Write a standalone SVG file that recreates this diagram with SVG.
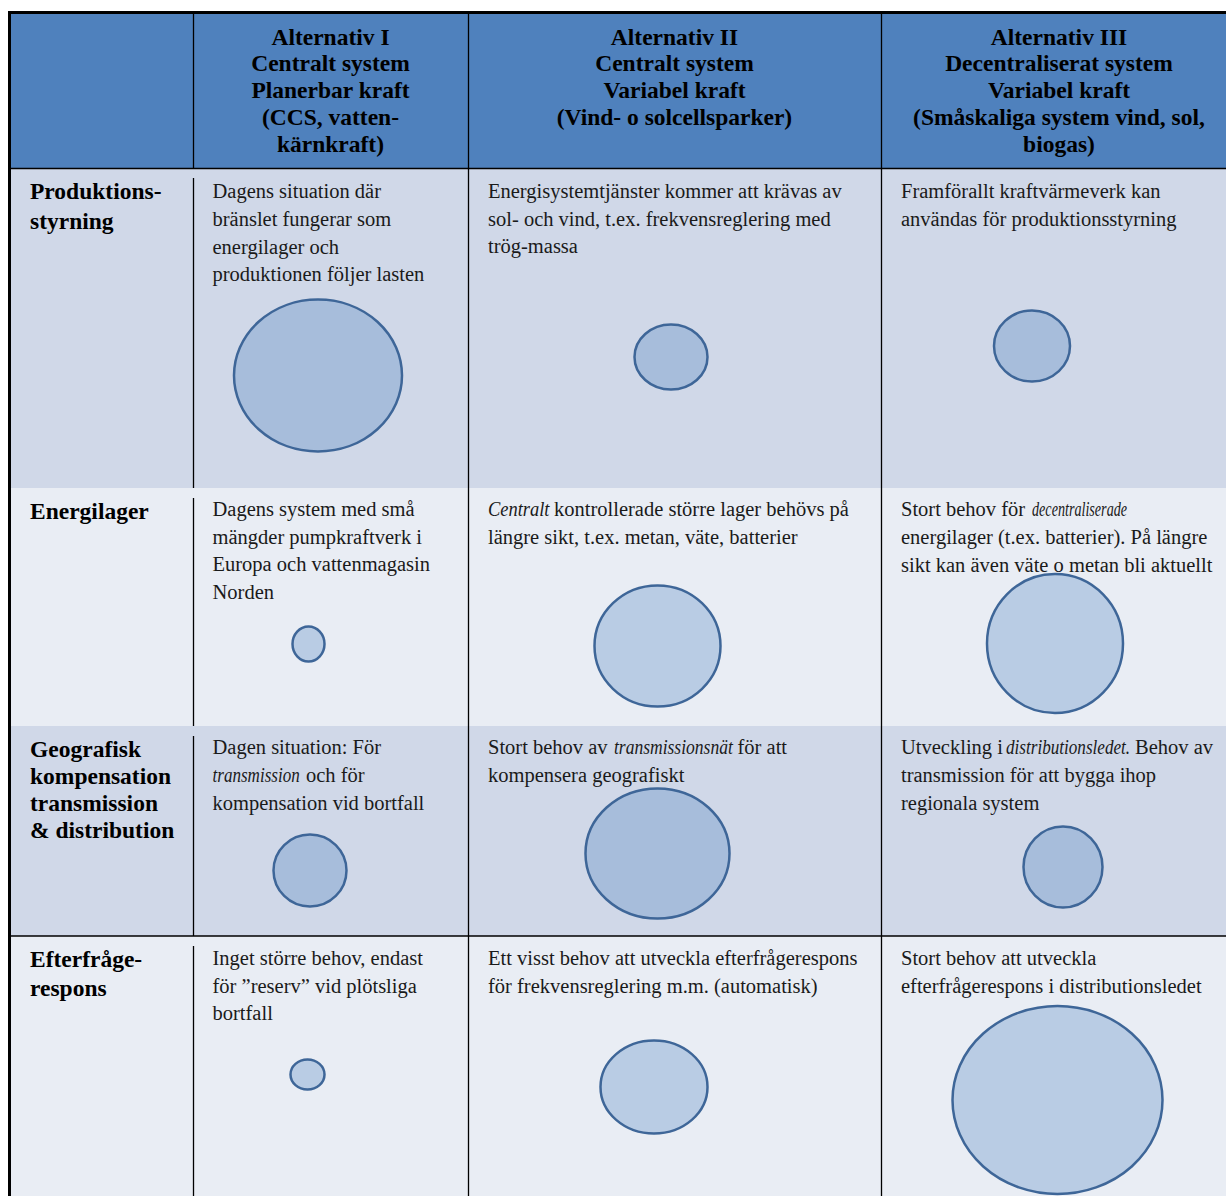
<svg xmlns="http://www.w3.org/2000/svg" width="1226" height="1196" viewBox="0 0 1226 1196">
<style>
.h{font-family:"Liberation Serif","Times New Roman",serif;font-weight:bold;font-size:23.5px;fill:#000;text-anchor:middle}
.l{font-family:"Liberation Serif","Times New Roman",serif;font-weight:bold;font-size:23.5px;fill:#000}
.b{font-family:"Liberation Serif","Times New Roman",serif;font-size:20.5px;fill:#1a1a1a}
.i{font-style:italic}
.ed{fill:#A7BDDB;stroke:#3E6698;stroke-width:2.5}
.el{fill:#B9CCE4;stroke:#3E6698;stroke-width:2.5}
.g{stroke:#000;fill:none}
</style>
<rect x="0" y="0" width="1226" height="1196" fill="#fff"/>
<g id="bands">
<rect x="11" y="14" width="1215" height="155" fill="#4F81BD"/>
<rect x="11" y="169" width="1215" height="319" fill="#D0D8E8"/>
<rect x="11" y="488" width="1215" height="238" fill="#E9EDF4"/>
<rect x="11" y="726" width="1215" height="210" fill="#D0D8E8"/>
<rect x="11" y="936" width="1215" height="260" fill="#E9EDF4"/>
</g>
<g id="grid" class="g">
<line x1="8" y1="12.5" x2="1226" y2="12.5" stroke-width="3"/>
<line x1="9.5" y1="11" x2="9.5" y2="1196" stroke-width="3"/>
<line x1="11" y1="168.5" x2="1226" y2="168.5" stroke-width="1.3"/>
<line x1="11" y1="936" x2="1226" y2="936" stroke-width="1.5"/>
<line x1="193.5" y1="14" x2="193.5" y2="168" stroke-width="1.3"/>
<line x1="193.5" y1="178" x2="193.5" y2="488" stroke-width="1.3"/>
<line x1="193.5" y1="498" x2="193.5" y2="726" stroke-width="1.3"/>
<line x1="193.5" y1="736" x2="193.5" y2="936" stroke-width="1.3"/>
<line x1="193.5" y1="946" x2="193.5" y2="1196" stroke-width="1.3"/>
<line x1="468.5" y1="14" x2="468.5" y2="1196" stroke-width="1.3"/>
<line x1="881.5" y1="14" x2="881.5" y2="1196" stroke-width="1.3"/>
</g>
<g id="connectors"></g>
<g id="header-alt1">
<text class="h" x="330.5" y="44.5">Alternativ I</text>
<text class="h" x="330.5" y="71.3">Centralt system</text>
<text class="h" x="330.5" y="98">Planerbar kraft</text>
<text class="h" x="330.5" y="124.8">(CCS, vatten-</text>
<text class="h" x="330.5" y="151.6">kärnkraft)</text>
</g>
<g id="header-alt2">
<text class="h" x="674.5" y="44.5">Alternativ II</text>
<text class="h" x="674.5" y="71.3">Centralt system</text>
<text class="h" x="674.5" y="98">Variabel kraft</text>
<text class="h" x="674.5" y="124.8">(Vind- o solcellsparker)</text>
</g>
<g id="header-alt3">
<text class="h" x="1059" y="44.5">Alternativ III</text>
<text class="h" x="1059" y="71.3">Decentraliserat system</text>
<text class="h" x="1059" y="98">Variabel kraft</text>
<text class="h" x="1059" y="124.8">(Småskaliga system vind, sol,</text>
<text class="h" x="1059" y="151.6">biogas)</text>
</g>
<g id="label-produktionsstyrning">
<text class="l" x="30" y="199">Produktions-</text>
<text class="l" x="30" y="229">styrning</text>
</g>
<g id="label-energilager">
<text class="l" x="30" y="519">Energilager</text>
</g>
<g id="label-geografisk">
<text class="l" x="30" y="757">Geografisk</text>
<text class="l" x="30" y="784">kompensation</text>
<text class="l" x="30" y="811">transmission</text>
<text class="l" x="30" y="838">&amp; distribution</text>
</g>
<g id="label-efterfragerespons">
<text class="l" x="30" y="967">Efterfråge-</text>
<text class="l" x="30" y="996">respons</text>
</g>
<g id="cell-1-1">
<text class="b" x="212.5" y="198">Dagens situation där</text>
<text class="b" x="212.5" y="226">bränslet fungerar som</text>
<text class="b" x="212.5" y="253.5">energilager och</text>
<text class="b" x="212.5" y="281">produktionen följer lasten</text>
<ellipse class="ed" cx="318" cy="375.5" rx="84" ry="76"/>
</g>
<g id="cell-1-2">
<text class="b" x="488" y="198">Energisystemtjänster kommer att krävas av</text>
<text class="b" x="488" y="225.5">sol- och vind, t.ex. frekvensreglering med</text>
<text class="b" x="488" y="253">trög-massa</text>
<ellipse class="ed" cx="671" cy="357" rx="36.5" ry="32.5"/>
</g>
<g id="cell-1-3">
<text class="b" x="901" y="198">Framförallt kraftvärmeverk kan</text>
<text class="b" x="901" y="225.5">användas för produktionsstyrning</text>
<ellipse class="ed" cx="1032" cy="346" rx="38" ry="35.5"/>
</g>
<g id="cell-2-1">
<text class="b" x="212.5" y="516">Dagens system med små</text>
<text class="b" x="212.5" y="543.5">mängder pumpkraftverk i</text>
<text class="b" x="212.5" y="571">Europa och vattenmagasin</text>
<text class="b" x="212.5" y="598.5">Norden</text>
<ellipse class="el" cx="308.5" cy="644" rx="16" ry="17.5"/>
</g>
<g id="cell-2-2">
<text class="b i" transform="translate(488 516) scale(0.9 1)">Centralt</text>
<text class="b" x="554" y="516">kontrollerade större lager behövs på</text>
<text class="b" x="488" y="544">längre sikt, t.ex. metan, väte, batterier</text>
<ellipse class="el" cx="657.5" cy="646" rx="63" ry="60.5"/>
</g>
<g id="cell-2-3">
<text class="b" x="901" y="516">Stort behov för</text>
<text class="b i" transform="translate(1032 516) scale(0.69 1)">decentraliserade</text>
<text class="b" x="901" y="544">energilager (t.ex. batterier). På längre</text>
<text class="b" x="901" y="571.5">sikt kan även väte o metan bli aktuellt</text>
<ellipse class="el" cx="1055" cy="643.5" rx="68" ry="69.5"/>
</g>
<g id="cell-3-1">
<text class="b" x="212.5" y="754">Dagen situation: För</text>
<text class="b i" transform="translate(212.5 782) scale(0.833 1)">transmission</text>
<text class="b" x="306" y="782">och för</text>
<text class="b" x="212.5" y="810">kompensation vid bortfall</text>
<ellipse class="ed" cx="310" cy="870.5" rx="36.5" ry="36"/>
</g>
<g id="cell-3-2">
<text class="b" x="488" y="754">Stort behov av</text>
<text class="b i" transform="translate(614 754) scale(0.855 1)">transmissionsnät</text>
<text class="b" x="737.5" y="754">för att</text>
<text class="b" x="488" y="782">kompensera geografiskt</text>
<ellipse class="ed" cx="657.5" cy="853.5" rx="72" ry="65"/>
</g>
<g id="cell-3-3">
<text class="b" x="901" y="754">Utveckling i</text>
<text class="b i" transform="translate(1006 754) scale(0.836 1)">distributionsledet.</text>
<text class="b" x="1135" y="754">Behov av</text>
<text class="b" x="901" y="782">transmission för att bygga ihop</text>
<text class="b" x="901" y="810">regionala system</text>
<ellipse class="ed" cx="1063" cy="867" rx="39.5" ry="40.5"/>
</g>
<g id="cell-4-1">
<text class="b" x="212.5" y="965">Inget större behov, endast</text>
<text class="b" x="212.5" y="993">för ”reserv” vid plötsliga</text>
<text class="b" x="212.5" y="1020">bortfall</text>
<ellipse class="el" cx="307.5" cy="1074.5" rx="17" ry="15"/>
</g>
<g id="cell-4-2">
<text class="b" x="488" y="965">Ett visst behov att utveckla efterfrågerespons</text>
<text class="b" x="488" y="993">för frekvensreglering m.m. (automatisk)</text>
<ellipse class="el" cx="654" cy="1087" rx="53.5" ry="46.5"/>
</g>
<g id="cell-4-3">
<text class="b" x="901" y="965">Stort behov att utveckla</text>
<text class="b" x="901" y="993">efterfrågerespons i distributionsledet</text>
<ellipse class="el" cx="1057.5" cy="1100" rx="105" ry="94"/>
</g>
</svg>
